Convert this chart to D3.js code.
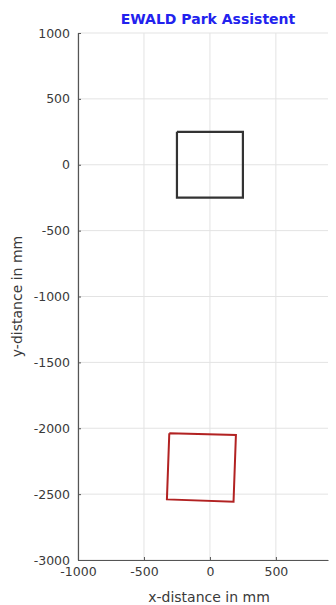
<!DOCTYPE html>
<html><head><meta charset="utf-8">
<script src="https://cdn.jsdelivr.net/npm/d3@7"></script>
<style>body{margin:0;background:#fff}svg{display:block}</style>
</head><body>
<svg id="c" width="336" height="605"></svg>
<script>
const xTicks = [-1000, -500, 0, 500];
const yTicks = [1000, 500, 0, -500, -1000, -1500, -2000, -2500, -3000];
const vehicleX = [-250, 250, 250, -250];
const vehicleY = [250, 250, -250, -250];
const targetX = [-308, 197, 179, -326];
const targetY = [-2038, -2051, -2557, -2540];
const title = "EWALD Park Assistent";
const xLabel = "x-distance in mm";
const yLabel = "y-distance in mm";

const FONT = "DejaVu Sans, Verdana, sans-serif";
const svg = d3.select("#c");
const L = 78, R = 328, T = 33, B = 560;
const x = d3.scaleLinear().domain([-1000, 895]).range([L, R]);
const y = d3.scaleLinear().domain([-3000, 1000]).range([B, T]);
const fmt = d => String(d);

// grid
svg.append("g").selectAll("line").data(xTicks).join("line")
  .attr("x1", d => x(d)).attr("x2", d => x(d)).attr("y1", T).attr("y2", B)
  .attr("stroke", "#e3e3e3").attr("stroke-width", 1);
svg.append("g").selectAll("line").data(yTicks).join("line")
  .attr("x1", L).attr("x2", R).attr("y1", d => y(d)).attr("y2", d => y(d))
  .attr("stroke", "#e3e3e3").attr("stroke-width", 1);

// axes
const xa = svg.append("g").attr("transform", `translate(0,${B})`)
  .call(d3.axisBottom(x).tickValues(xTicks).tickSizeInner(-3).tickSizeOuter(0).tickPadding(12).tickFormat(fmt));
const ya = svg.append("g").attr("transform", `translate(${L},0)`)
  .call(d3.axisLeft(y).tickValues(yTicks).tickSizeInner(-3).tickSizeOuter(0).tickPadding(8).tickFormat(fmt));
[xa, ya].forEach(a => {
  a.select(".domain").attr("stroke", "#555").attr("stroke-width", 1.2);
  a.selectAll(".tick line").attr("stroke", "#555");
  a.selectAll("text").attr("fill", "#3a3a3a").attr("font-family", FONT).attr("font-size", 12.5);
});
xa.selectAll("text").attr("dy", "0.35em");

const line = d3.line().x(d => x(d[0])).y(d => y(d[1]));
const closed = (xs, ys) => xs.map((v, i) => [v, ys[i]]).concat([[xs[0], ys[0]]]);

svg.append("path").attr("d", line(closed(vehicleX, vehicleY)))
  .attr("fill", "none").attr("stroke", "#333").attr("stroke-width", 2.2).attr("stroke-linejoin", "miter");
svg.append("path").attr("d", line(closed(targetX, targetY)))
  .attr("fill", "none").attr("stroke", "#b22222").attr("stroke-width", 2).attr("stroke-linejoin", "miter");

svg.append("text").attr("x", 208).attr("y", 24).attr("text-anchor", "middle")
  .attr("font-family", FONT).attr("font-size", 14).attr("font-weight", "bold")
  .attr("fill", "#2222ee").text(title);
svg.append("text").attr("x", 209).attr("y", 602).attr("text-anchor", "middle")
  .attr("font-family", FONT).attr("font-size", 14)
  .attr("fill", "#3a3a3a").text(xLabel);
svg.append("text").attr("transform", `translate(22,${(T+B)/2}) rotate(-90)`).attr("text-anchor", "middle")
  .attr("font-family", FONT).attr("font-size", 14)
  .attr("fill", "#3a3a3a").text(yLabel);
</script>
</body></html>
